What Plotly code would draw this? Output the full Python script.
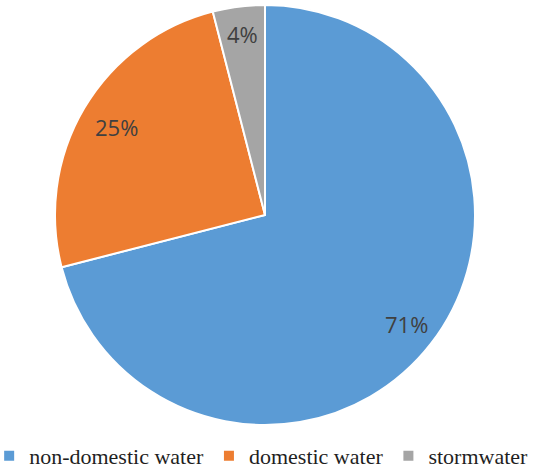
import math
import plotly.graph_objects as go

categories = ["non-domestic water", "domestic water", "stormwater"]
shares = [71, 25, 4]
colors = ["#5B9BD5", "#ED7D31", "#A5A5A5"]

W, H = 542, 470
# pie geometry in pixels
cx, cy, R = 265, 215, 210
# radial placement of each percentage label, as a fraction of the radius
label_radius = [0.85, 0.82, 0.87]

fig = go.Figure(
    go.Pie(
        labels=categories,
        values=shares,
        sort=False,
        direction="clockwise",
        rotation=0,
        marker=dict(colors=colors, line=dict(color="white", width=2)),
        textinfo="none",
        domain=dict(x=[(cx - R) / W, (cx + R) / W], y=[(H - cy - R) / H, (H - cy + R) / H]),
        hoverinfo="label+percent",
    )
)

# percentage labels at the angular midpoint of each slice
total = sum(shares)
cum = 0
for share, rf in zip(shares, label_radius):
    mid = (cum + share / 2) / total * 2 * math.pi  # clockwise from 12 o'clock
    cum += share
    px = cx + rf * R * math.sin(mid)
    py = cy - rf * R * math.cos(mid)
    fig.add_annotation(
        x=px / W,
        y=(H - py) / H,
        xref="paper",
        yref="paper",
        text=f"{share}%",
        showarrow=False,
        xanchor="center",
        yanchor="middle",
        font=dict(family="Open Sans", size=22, color="#404040"),
    )

fig.update_layout(
    width=W,
    height=H,
    margin=dict(l=0, r=0, t=0, b=0, autoexpand=False),
    paper_bgcolor="white",
    plot_bgcolor="white",
    showlegend=True,
    legend=dict(
        orientation="h",
        x=-0.02,
        xanchor="left",
        y=-0.015,
        yanchor="bottom",
        font=dict(family="Liberation Serif", size=22, color="#1f1f1f"),
        tracegroupgap=0,
    ),
)

fig.write_html("out.html")
